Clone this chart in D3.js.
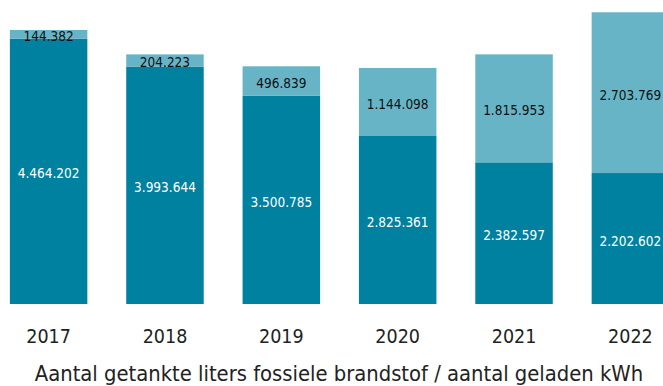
<!DOCTYPE html>
<html>
<head>
<meta charset="utf-8">
<script src="https://cdn.jsdelivr.net/npm/d3@7"></script>
<style>
  body { margin: 0; background: #fff; }
  svg { display: block; font-family: "Liberation Sans Narrow", "DejaVu Sans Condensed", sans-serif; }
</style>
</head>
<body>
<svg id="chart" width="663" height="386"></svg>
<script>
var years = ["2017", "2018", "2019", "2020", "2021", "2022"];
var liters = [4464202, 3993644, 3500785, 2825361, 2382597, 2202602];
var kwh = [144382, 204223, 496839, 1144098, 1815953, 2703769];
var title = "Aantal getankte liters fossiele brandstof / aantal geladen kWh";

var svg = d3.select("#chart");
var fmt = d3.formatLocale({ decimal: ",", thousands: ".", grouping: [3], currency: ["", ""] }).format(",d");

var x = d3.scaleBand().domain(years).range([-29, 708]).padding(0.334);
var y = d3.scaleLinear().domain([0, 5000000]).range([304, 6.7]);

var data = years.map(function (yr, i) {
    return { year: yr, liters: liters[i], kwh: kwh[i] };
});

var g = svg.selectAll("g.bar")
    .data(data)
    .enter().append("g")
    .attr("class", "bar");

// bottom segment: liters
g.append("rect")
    .attr("x", function (d) { return x(d.year); })
    .attr("width", x.bandwidth())
    .attr("y", function (d) { return y(d.liters); })
    .attr("height", function (d) { return y(0) - y(d.liters); })
    .attr("fill", "#0081a0");

// top segment: kWh
g.append("rect")
    .attr("x", function (d) { return x(d.year); })
    .attr("width", x.bandwidth())
    .attr("y", function (d) { return y(d.liters + d.kwh); })
    .attr("height", function (d) { return y(d.liters) - y(d.liters + d.kwh); })
    .attr("fill", "#68b4c7");

g.append("text")
    .attr("x", function (d) { return x(d.year) + x.bandwidth() / 2; })
    .attr("y", function (d) { return (y(0) + y(d.liters)) / 2 + 7; })
    .attr("text-anchor", "middle")
    .attr("font-size", 13.5)
    .attr("fill", "#fff")
    .text(function (d) { return fmt(d.liters); });

g.append("text")
    .attr("x", function (d) { return x(d.year) + x.bandwidth() / 2; })
    .attr("y", function (d) { return (y(d.liters) + y(d.liters + d.kwh)) / 2 + 7; })
    .attr("text-anchor", "middle")
    .attr("font-size", 13.5)
    .attr("fill", "#111")
    .text(function (d) { return fmt(d.kwh); });

// year axis
var axis = svg.append("g")
    .attr("transform", "translate(0,343)")
    .call(d3.axisBottom(x).tickSize(0).tickPadding(0));
axis.select(".domain").remove();
axis.selectAll("text")
    .attr("dy", 0)
    .attr("font-size", 19.5)
    .attr("font-family", "Liberation Sans Narrow, DejaVu Sans Condensed, sans-serif")
    .attr("fill", "#222");

svg.append("text")
    .attr("x", 339)
    .attr("y", 381)
    .attr("text-anchor", "middle")
    .attr("font-size", 21.8)
    .attr("fill", "#222")
    .text(title);
</script>
</body>
</html>
